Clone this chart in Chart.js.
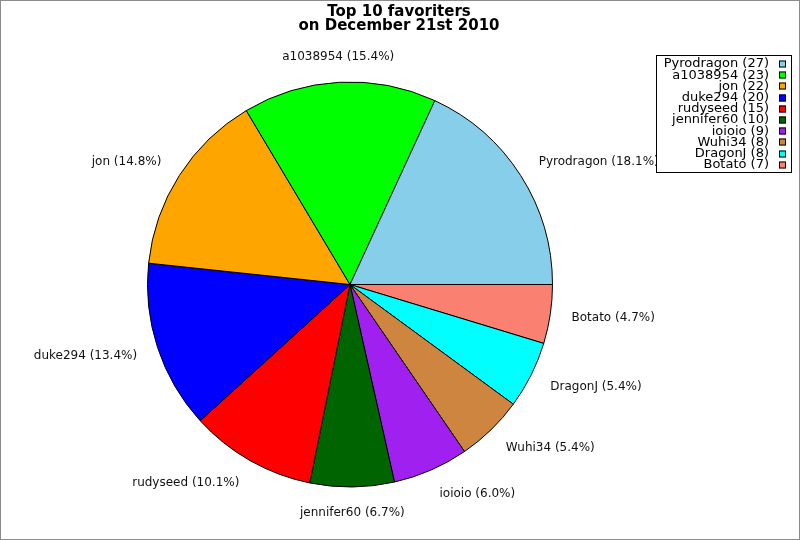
<!DOCTYPE html>
<html><head><meta charset="utf-8">
<script src="https://cdn.jsdelivr.net/npm/chart.js@4.4.1/dist/chart.umd.min.js"></script>
<style>html,body{margin:0;padding:0;background:#fff}canvas{display:block}</style>
</head><body>
<canvas id="c" width="800" height="540"></canvas>
<script>
const titleLines = ["Top 10 favoriters", "on December 21st 2010"];
const names = ["Pyrodragon","a1038954","jon","duke294","rudyseed","jennifer60","ioioio","Wuhi34","DragonJ","Botato"];
const counts = [27,23,22,20,15,10,9,8,8,7];
const colors = ["#87CEEB","#00FF00","#FFA500","#0000FF","#FF0000","#006400","#A020F0","#CD853F","#00FFFF","#FA8072"];

const total = counts.reduce((a,b)=>a+b,0);
const pct = counts.map(v => (v/total*100).toFixed(1));
// reference slices run counter-clockwise; Chart.js draws clockwise, so feed reversed
const rev = names.map((_,i)=>names.length-1-i);

const decor = {
  id:'decor',
  afterDraw(chart){
    const ctx = chart.ctx;
    ctx.save();
    // frame
    ctx.strokeStyle = '#8c8c8c'; ctx.lineWidth = 1;
    ctx.strokeRect(0.5,0.5,799,539);
    // title
    ctx.fillStyle = '#000';
    ctx.font = 'bold 15px "DejaVu Sans"';
    ctx.textAlign = 'center'; ctx.textBaseline = 'alphabetic';
    ctx.fillText(titleLines[0], 399, 16);
    ctx.fillText(titleLines[1], 399, 30);
    // slice labels
    const meta = chart.getDatasetMeta(0);
    ctx.font = '12px "DejaVu Sans"';
    ctx.textBaseline = 'middle';
    ctx.fillStyle = '#111';
    meta.data.forEach((arc, j) => {
      const i = rev[j];
      const p = arc.getProps(['x','y','startAngle','endAngle','outerRadius'], true);
      const mid = (p.startAngle + p.endAngle)/2;
      const c = Math.cos(mid), s = Math.sin(mid);
      const lx = p.x + p.outerRadius*1.106*c;
      const ly = p.y + p.outerRadius*1.126*s;
      ctx.textAlign = Math.abs(c) < 0.15 ? 'center' : (c > 0 ? 'left' : 'right');
      ctx.fillText(names[i] + ' (' + pct[i] + '%)', lx, ly);
    });
    // legend
    const lx0 = 656.5, ly0 = 55.5, lw = 135, lh = 117;
    ctx.fillStyle = '#fff';
    ctx.fillRect(lx0, ly0, lw, lh);
    ctx.strokeStyle = '#000';
    ctx.strokeRect(lx0, ly0, lw, lh);
    ctx.font = '13px "DejaVu Sans"';
    ctx.textAlign = 'right'; ctx.textBaseline = 'middle';
    names.forEach((n, i) => {
      const cy = 64 + i*11.2;
      ctx.fillStyle = '#000';
      ctx.fillText(n + ' (' + counts[i] + ')', 769, cy);
      ctx.fillStyle = colors[i];
      ctx.fillRect(779, Math.round(cy) - 3.5, 7, 7);
      ctx.strokeStyle = '#000';
      ctx.strokeRect(779.5, Math.round(cy) - 3.5 + 0.5, 6, 6);
    });
    ctx.restore();
  }
};

new Chart(document.getElementById('c'), {
  type: 'pie',
  data: {
    labels: rev.map(i => names[i]),
    datasets: [{
      data: rev.map(i => counts[i]),
      backgroundColor: rev.map(i => colors[i]),
      borderColor: '#000',
      borderWidth: 1,
      radius: 202.5
    }]
  },
  options: {
    responsive: false,
    animation: false,
    rotation: 90,
    layout: { padding: { left: 0, right: 100, top: 29, bottom: 0 } },
    plugins: { legend: { display: false }, tooltip: { enabled: false }, title: { display: false } }
  },
  plugins: [decor]
});
</script>
</body></html>
